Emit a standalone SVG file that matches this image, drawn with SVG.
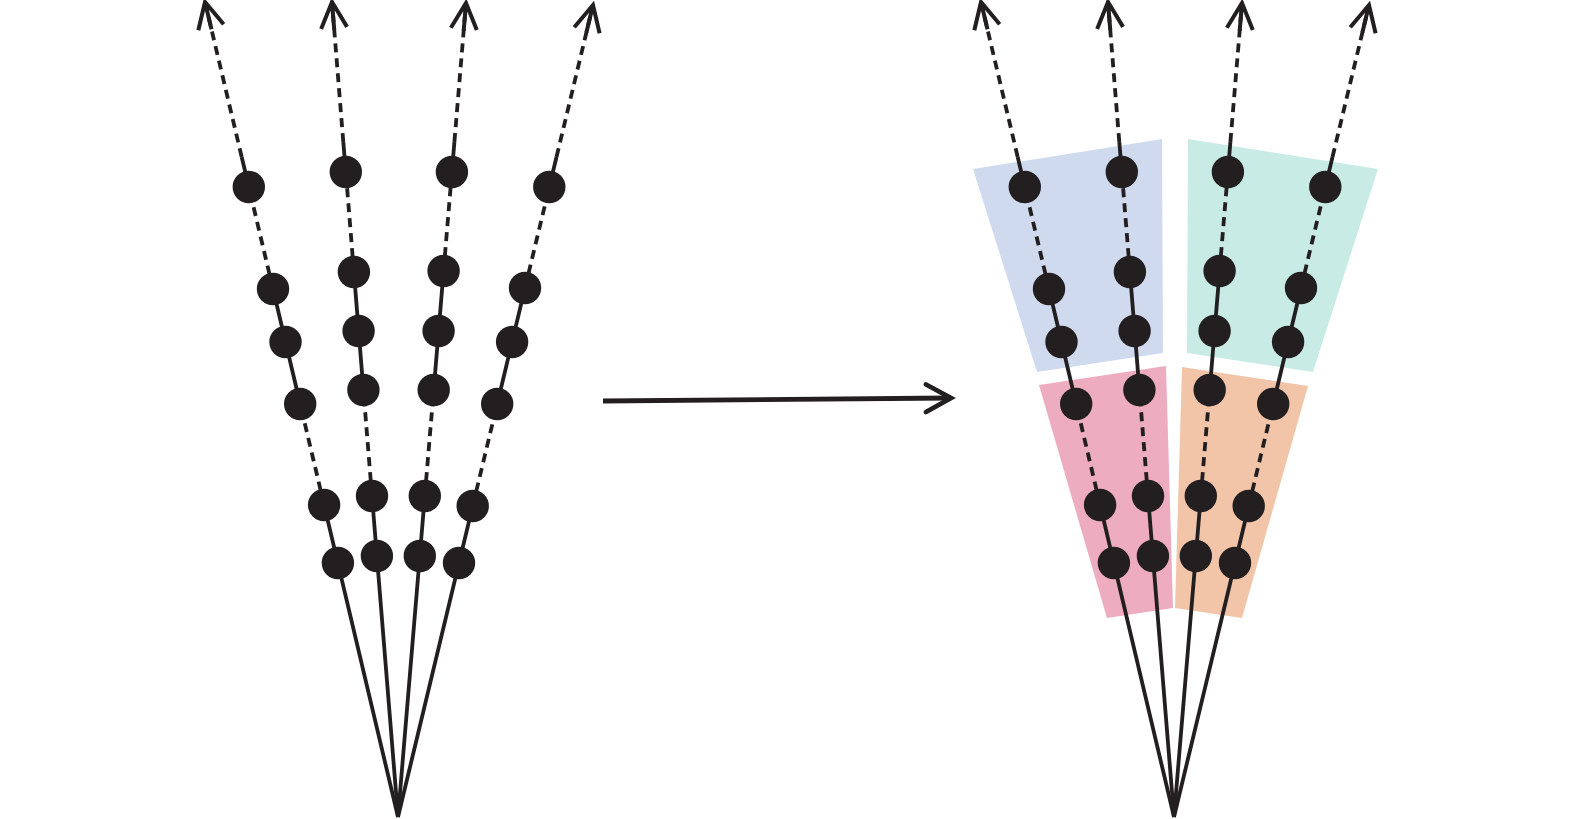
<svg xmlns="http://www.w3.org/2000/svg" width="1575" height="819" viewBox="0 0 1575 819">
<style>
.s{fill:none;stroke:#231f20;stroke-width:3.8}
.d{fill:none;stroke:#231f20;stroke-width:3.8;stroke-dasharray:9 6}
.dot{fill:#231f20}
</style>
<defs>
<marker id="ah" markerUnits="userSpaceOnUse" markerWidth="60" markerHeight="60" viewBox="-30 -30 60 60" refX="0" refY="0" orient="auto" overflow="visible">
<path d="M-26 -13 L0 0 L-26 13 M0 0 L-28 0" fill="none" stroke="#231f20" stroke-width="4"/>
</marker>
<g id="rays">
<path class="s" d="M398 817 L324.1 505 M300.2 404 L273 289 M248.8 187 L241.7 157"/>
<path class="d" d="M324.1 505 L300.2 404 M273 289 L248.8 187 M241.7 157 L205 2" marker-end="url(#ah)"/>
<path class="s" d="M398 817 L372 496 M363.4 390 L353.9 272 M345.8 172 L343.3 142"/>
<path class="d" d="M372 496 L363.4 390 M353.9 272 L345.8 172 M343.3 142 L332 2" marker-end="url(#ah)"/>
<path class="s" d="M398 817 L424.8 496 M433.7 390 L443.6 271 M451.9 172 L454.4 142"/>
<path class="d" d="M424.8 496 L433.7 390 M443.6 271 L451.9 172 M454.4 142 L466 3" marker-end="url(#ah)"/>
<path class="s" d="M398 817 L472.7 506 M497.2 404 L525 288 M549.3 187 L556.5 157"/>
<path class="d" d="M472.7 506 L497.2 404 M525 288 L549.3 187 M556.5 157 L593 5" marker-end="url(#ah)"/>
</g>
<g id="dots">
<circle class="dot" cx="248.8" cy="187" r="16.2"/><circle class="dot" cx="273" cy="289" r="16.2"/><circle class="dot" cx="285.5" cy="342" r="16.2"/><circle class="dot" cx="300.2" cy="404" r="16.2"/><circle class="dot" cx="324.1" cy="505" r="16.2"/><circle class="dot" cx="337.9" cy="563" r="16.2"/>
<circle class="dot" cx="345.8" cy="172" r="16.2"/><circle class="dot" cx="353.9" cy="272" r="16.2"/><circle class="dot" cx="358.6" cy="331" r="16.2"/><circle class="dot" cx="363.4" cy="390" r="16.2"/><circle class="dot" cx="372" cy="496" r="16.2"/><circle class="dot" cx="376.9" cy="556" r="16.2"/>
<circle class="dot" cx="451.9" cy="172" r="16.2"/><circle class="dot" cx="443.6" cy="271" r="16.2"/><circle class="dot" cx="438.6" cy="331" r="16.2"/><circle class="dot" cx="433.7" cy="390" r="16.2"/><circle class="dot" cx="424.8" cy="496" r="16.2"/><circle class="dot" cx="419.8" cy="556" r="16.2"/>
<circle class="dot" cx="549.3" cy="187" r="16.2"/><circle class="dot" cx="525" cy="288" r="16.2"/><circle class="dot" cx="512.1" cy="342" r="16.2"/><circle class="dot" cx="497.2" cy="404" r="16.2"/><circle class="dot" cx="472.7" cy="506" r="16.2"/><circle class="dot" cx="459" cy="563" r="16.2"/>
</g>
</defs>
<g id="left-fan">
<use href="#rays"/>
<use href="#dots"/>
</g>
<g id="connectors">
<path d="M603 401 L950 398" fill="none" stroke="#231f20" stroke-width="4.8"/>
<path d="M926 384.5 L951 398 L926 412" fill="none" stroke="#231f20" stroke-width="4.8" stroke-linecap="round" stroke-linejoin="miter"/>
</g>
<g id="right-fan">
<g id="region-blue"><polygon points="973,169 1162,139 1163,353 1037,372" fill="#cfdaef"/></g>
<g id="region-teal"><polygon points="1188,139 1378,169 1313,372 1187,353" fill="#c8ece5"/></g>
<g id="region-pink"><polygon points="1039,385 1166,366 1173,608 1107,618" fill="#edacbf"/></g>
<g id="region-orange"><polygon points="1182,367 1308,386 1242,618 1175,608" fill="#f2c5a9"/></g>
<g transform="translate(776,0)">
<use href="#rays"/>
<use href="#dots"/>
</g>
</g>
</svg>
